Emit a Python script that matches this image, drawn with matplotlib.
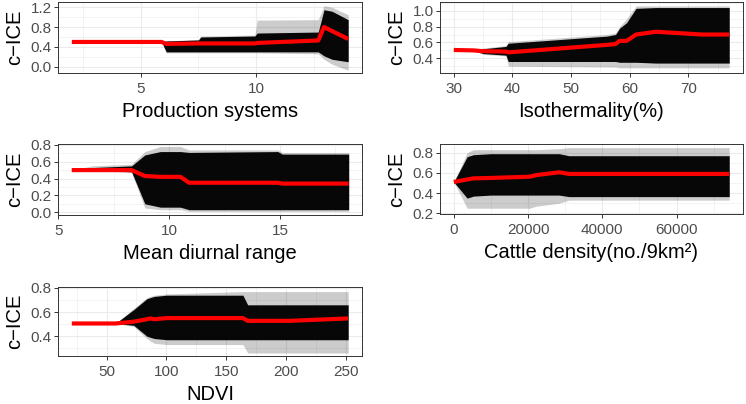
import matplotlib
matplotlib.use("Agg")
import matplotlib.pyplot as plt
from matplotlib.ticker import MultipleLocator

plt.rcParams["font.family"] = ["Liberation Sans", "DejaVu Sans"]

# ---- Production systems ----
prod_x = [2, 5.9, 6.1, 7.5, 7.6, 9.95, 10.05, 12.7, 12.95, 13.3, 14]
prod_mean = [0.5, 0.5, 0.46, 0.47, 0.47, 0.47, 0.48, 0.53, 0.80, 0.72, 0.56]
prod_core_hi = [0.5, 0.5, 0.52, 0.54, 0.60, 0.62, 0.68, 0.70, 1.15, 1.12, 0.95]
prod_core_lo = [0.5, 0.5, 0.30, 0.30, 0.30, 0.30, 0.30, 0.30, 0.22, 0.15, 0.10]
prod_out_hi = [0.5, 0.5, 0.52, 0.55, 0.62, 0.64, 0.94, 0.95, 1.23, 1.20, 1.05]
prod_out_lo = [0.5, 0.5, 0.28, 0.28, 0.28, 0.28, 0.28, 0.26, 0.15, 0.05, -0.07]

# ---- Isothermality(%) ----
iso_x = [30, 33.3, 35, 38.9, 39.3, 56.2, 57.6, 58.3, 59.5, 61.1, 64.5, 72.4, 77]
iso_mean = [0.505, 0.50, 0.49, 0.485, 0.475, 0.57, 0.58, 0.62, 0.62, 0.70, 0.735, 0.70, 0.70]
iso_core_hi = [0.505, 0.50, 0.52, 0.55, 0.59, 0.68, 0.70, 0.78, 0.85, 1.03, 1.04, 1.04, 1.04]
iso_core_lo = [0.505, 0.50, 0.46, 0.44, 0.36, 0.36, 0.36, 0.35, 0.35, 0.35, 0.34, 0.34, 0.34]
iso_out_hi = [0.505, 0.50, 0.53, 0.56, 0.61, 0.70, 0.72, 0.80, 0.90, 1.06, 1.06, 1.06, 1.06]
iso_out_lo = [0.505, 0.50, 0.45, 0.43, 0.30, 0.29, 0.29, 0.28, 0.28, 0.28, 0.28, 0.28, 0.28]

# ---- Mean diurnal range ----
mdr_x = [5.6, 6.5, 8.3, 8.9, 9.6, 10.5, 10.9, 14.9, 15.1, 18.1]
mdr_mean = [0.5, 0.5, 0.5, 0.43, 0.42, 0.42, 0.35, 0.35, 0.34, 0.34]
mdr_core_hi = [0.5, 0.53, 0.55, 0.68, 0.72, 0.72, 0.71, 0.72, 0.69, 0.69]
mdr_core_lo = [0.5, 0.50, 0.48, 0.10, 0.06, 0.06, 0.03, 0.03, 0.03, 0.03]
mdr_out_hi = [0.5, 0.55, 0.57, 0.72, 0.78, 0.78, 0.74, 0.74, 0.71, 0.71]
mdr_out_lo = [0.5, 0.50, 0.47, 0.05, 0.03, 0.03, 0.01, 0.01, 0.01, 0.01]

# ---- Cattle density ----
cat_x = [0, 3600, 5300, 10000, 20400, 22200, 28400, 31000, 74200]
cat_mean = [0.51, 0.535, 0.546, 0.55, 0.562, 0.578, 0.606, 0.59, 0.59]
cat_core_hi = [0.51, 0.76, 0.78, 0.79, 0.79, 0.79, 0.79, 0.77, 0.77]
cat_core_lo = [0.51, 0.35, 0.37, 0.38, 0.38, 0.38, 0.38, 0.365, 0.365]
cat_out_hi = [0.51, 0.80, 0.83, 0.83, 0.83, 0.83, 0.84, 0.85, 0.85]
cat_out_lo = [0.51, 0.25, 0.25, 0.25, 0.25, 0.27, 0.30, 0.33, 0.33]

# ---- NDVI ----
ndvi_x = [21, 57.5, 72.7, 83.7, 86.6, 90, 100.4, 164, 168, 202.9, 252]
ndvi_mean = [0.505, 0.505, 0.52, 0.54, 0.547, 0.54, 0.55, 0.55, 0.527, 0.527, 0.547]
ndvi_core_hi = [0.505, 0.505, 0.62, 0.71, 0.72, 0.73, 0.74, 0.74, 0.66, 0.66, 0.66]
ndvi_core_lo = [0.505, 0.505, 0.49, 0.40, 0.39, 0.38, 0.37, 0.37, 0.37, 0.37, 0.37]
ndvi_out_hi = [0.505, 0.505, 0.63, 0.72, 0.73, 0.74, 0.75, 0.77, 0.77, 0.77, 0.77]
ndvi_out_lo = [0.505, 0.505, 0.48, 0.38, 0.36, 0.34, 0.33, 0.33, 0.26, 0.26, 0.26]

panels = [
    dict(rect=(58, 2, 362, 73), label="Production systems",
         x=prod_x, mean=prod_mean, chi=prod_core_hi, clo=prod_core_lo,
         ohi=prod_out_hi, olo=prod_out_lo,
         xlim=(1.4, 14.6), ylim=(-0.127, 1.307), xmaj=5, xmin=2.5, ymaj=0.4, ymin=0.2),
    dict(rect=(440, 2, 743, 73), label="Isothermality(%)",
         x=iso_x, mean=iso_mean, chi=iso_core_hi, clo=iso_core_lo,
         ohi=iso_out_hi, olo=iso_out_lo,
         xlim=(27.65, 79.35), ylim=(0.215, 1.11), xmaj=10, xmin=5, ymaj=0.2, ymin=0.1),
    dict(rect=(58, 144, 362, 215), label="Mean diurnal range",
         x=mdr_x, mean=mdr_mean, chi=mdr_core_hi, clo=mdr_core_lo,
         ohi=mdr_out_hi, olo=mdr_out_lo,
         xlim=(4.98, 18.7), ylim=(-0.033, 0.81), xmaj=5, xmin=2.5, ymaj=0.2, ymin=0.1),
    dict(rect=(440, 144, 743, 214), label="Cattle density(no./9km²)",
         x=cat_x, mean=cat_mean, chi=cat_core_hi, clo=cat_core_lo,
         ohi=cat_out_hi, olo=cat_out_lo,
         xlim=(-3710, 77910), ylim=(0.193, 0.886), xmaj=20000, xmin=10000, ymaj=0.2, ymin=0.1),
    dict(rect=(58, 287, 362, 356), label="NDVI",
         x=ndvi_x, mean=ndvi_mean, chi=ndvi_core_hi, clo=ndvi_core_lo,
         ohi=ndvi_out_hi, olo=ndvi_out_lo,
         xlim=(9.45, 263.55), ylim=(0.235, 0.808), xmaj=50, xmin=25, ymaj=0.2, ymin=0.1),
]

W, H = 746, 404
fig = plt.figure(figsize=(W / 100, H / 100), dpi=100)

for p in panels:
    x0, y0, x1, y1 = p["rect"]
    ax = fig.add_axes([x0 / W, (H - y1) / H, (x1 - x0) / W, (y1 - y0) / H])
    ax.fill_between(p["x"], p["olo"], p["ohi"], color="black", alpha=0.2, lw=0)
    ax.fill_between(p["x"], p["clo"], p["chi"], color="black", alpha=0.97, lw=0)
    ax.plot(p["x"], p["mean"], color="#FF0000", lw=3, solid_capstyle="butt")
    ax.set_xlim(*p["xlim"])
    ax.set_ylim(*p["ylim"])
    ax.xaxis.set_major_locator(MultipleLocator(p["xmaj"]))
    ax.xaxis.set_minor_locator(MultipleLocator(p["xmin"]))
    ax.yaxis.set_major_locator(MultipleLocator(p["ymaj"]))
    ax.yaxis.set_minor_locator(MultipleLocator(p["ymin"]))
    ax.grid(which="major", color="#EBEBEB", lw=0.8)
    ax.grid(which="minor", color="#EBEBEB", lw=0.4)
    ax.set_axisbelow(True)
    for s in ax.spines.values():
        s.set_color("#333333")
        s.set_linewidth(0.7)
    ax.tick_params(which="major", length=3, width=0.7, color="#333333",
                   labelsize=11, labelcolor="#4D4D4D")
    ax.tick_params(axis="x", which="major", pad=3.5)
    ax.tick_params(axis="y", which="major", pad=1.5)
    ax.tick_params(which="minor", length=0)
    ax.yaxis.set_major_formatter(plt.FuncFormatter(lambda v, _: f"{v:.1f}"))
    if p["xmaj"] >= 1000:
        ax.xaxis.set_major_formatter(plt.FuncFormatter(lambda v, _: f"{v:.0f}"))
    ax.set_xlabel(p["label"], fontsize=14.5, labelpad=4)
    ax.set_ylabel("c\u2212ICE", fontsize=14.5, labelpad=5)

fig.savefig("out.png", dpi=100)
